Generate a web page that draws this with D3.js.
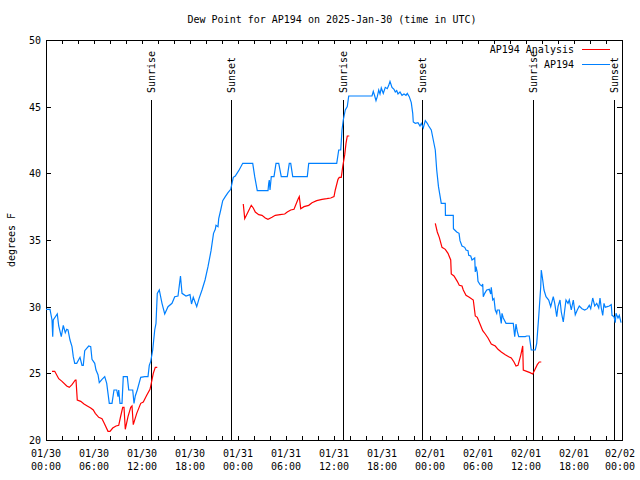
<!DOCTYPE html>
<html><head><meta charset="utf-8">
<script src="https://cdn.jsdelivr.net/npm/d3@7"></script>
<style>body{margin:0;background:#fff}svg{display:block}text{font-family:"DejaVu Sans Mono","Liberation Mono",monospace;font-size:10px;fill:#000}</style>
</head><body><svg id="c" width="640" height="480"></svg>
<script>
const title = "Dew Point for AP194 on 2025-Jan-30 (time in UTC)";
const yLabel = "degrees F";
const baseTime = Date.UTC(2025, 0, 30, 0, 0);
const yTicks = [20, 25, 30, 35, 40, 45, 50];
const seriesNames = ["AP194 Analysis", "AP194"];
// observed (hours after 01/30 00:00 UTC)
const obsHours = [0,0.5,0.75,0.84,0.91,1.41,1.59,1.91,2.16,2.41,2.59,2.75,3,3.25,3.41,3.59,3.84,4.25,4.5,4.66,4.84,5.34,5.59,5.75,6.09,6.25,6.5,6.66,7,7.34,7.59,7.91,8.25,8.5,8.84,9,9.09,9.25,9.5,9.66,10.16,10.34,10.84,11,11.16,11.41,11.84,12.34,12.75,12.91,13.09,13.34,13.59,13.75,13.91,14.16,14.5,14.84,15.25,15.75,16.09,16.5,16.81,17,17.5,18,18.19,18.41,18.84,19.13,19.5,19.88,20.25,20.63,20.94,21.16,21.25,21.5,21.59,21.84,22.09,22.41,22.75,23.09,23.25,23.41,23.66,24.09,24.59,25.84,26.09,26.41,27.75,27.84,27.91,28,28.16,28.5,28.75,29.09,29.41,30.16,30.41,30.59,30.84,32.66,32.84,36.34,36.59,36.84,37,37.16,37.41,37.66,37.84,40.75,40.91,41.09,41.25,41.41,41.59,41.75,41.91,42.16,42.41,42.66,42.84,43,43.25,43.5,43.66,43.84,44,44.25,44.5,44.75,45,45.16,45.41,45.66,45.84,45.91,46.16,46.5,46.75,46.91,47.16,47.41,47.66,47.84,48.16,48.41,48.66,48.84,49.06,49.41,49.91,49.93,50.91,50.93,51.34,51.63,51.75,52,52.34,52.5,52.75,52.84,53.09,53.25,53.59,53.66,53.75,53.91,54,54.25,54.5,54.59,54.66,54.84,55.09,55.41,55.59,55.66,55.84,56,56.16,56.34,56.41,56.66,56.91,57,57.16,57.5,58.41,58.59,58.75,58.91,59.09,59.91,60.09,60.41,60.66,61.16,61.34,61.59,61.84,61.91,62.09,62.25,62.5,62.84,63.09,63.41,63.59,63.84,64,64.25,64.41,64.66,64.84,65,65.25,65.41,65.66,65.91,66.16,66.41,66.66,67,67.34,67.66,67.91,68.09,68.34,68.59,68.84,69.09,69.25,69.41,69.59,69.75,69.91,70.16,70.41,70.66,70.75,71,71.16,71.25,71.5,71.66,71.88];
const obsDew = [29.8,29.8,29,27.75,29,29.45,28.55,27.75,28.6,28.05,28.3,28.25,27.5,27,26.25,25.75,25.75,26.2,25.6,25.6,26.7,27.05,27,26.05,25.75,25.25,24.9,24.3,24.55,24.75,24.25,22.75,22.75,23.75,23.75,23.25,23.75,22.75,22.75,24.75,24.75,23.75,23.75,22.75,23.3,23.75,24.7,24.75,24.75,25.6,25.9,26.75,28.25,28.75,31,31.25,30.25,29.45,30,30.25,30.75,30.8,32.3,31,30.8,30.9,30.2,30.7,30,30.6,31.25,32,33,34.2,35.5,35.8,36.1,36,36.6,37.25,37.95,38.25,38.55,38.8,39.25,39.7,39.8,40.2,40.75,40.75,39.75,38.7,38.7,39.25,39.5,38.75,39.75,39.75,40.75,40.75,39.75,39.75,40.75,40.75,39.75,39.75,40.75,40.75,41.75,41.75,43.25,44,44.75,45,45.8,45.8,46.15,45.8,45.45,45.75,46.25,45.95,46.4,46,46.45,46.35,46.6,46.9,46.45,46.3,46.1,46.2,45.95,46.1,45.85,45.95,45.85,46,45.75,45.3,44.5,43.85,43.75,43.8,43.55,43.75,43.4,43.95,43.75,43.55,43.25,42.5,41.75,40.25,39,37.75,37.75,36.85,36.85,35.85,35.6,35.5,34.95,34.55,34.45,34.25,34.2,33.85,33.8,33.5,33.65,32.6,33,32.55,31.9,31.65,31.55,31.7,30.75,31,31.25,31.3,30.95,31.45,30.5,30.6,29.75,29.5,29.75,29.75,28.75,29.5,29.15,28.75,28.75,27.75,28.7,28.15,27.75,27.75,27.8,27.8,26.75,26.75,27.25,29.25,31.5,32.75,32,31.25,30.75,30.5,30,30.75,30.25,29.25,30,30.5,29.6,28.85,29.75,30.5,30.25,30.5,29.75,30.5,29.4,29.75,30.05,29.85,29.75,29.85,30.1,29.85,30.65,30.05,30.25,29.9,30.65,29.9,29.35,30.25,29.95,30,30.05,30.15,29.35,29.25,28.8,29.5,29.15,29.35,28.8];
// analysis (null = gap)
const anaHours = [0.75,1.09,1.59,2,2.59,2.91,3.25,3.66,3.75,3.91,4.34,4.75,5.16,5.59,5.91,6.16,6.59,7,7.25,7.75,8,8.34,8.75,9.09,9.34,9.59,9.75,9.91,10.25,10.59,10.75,10.91,11.34,11.84,12.16,12.59,13,13.16,13.41,13.66,13.91,
 19,
 24.66,24.84,25.25,25.66,25.91,26.16,26.59,27,27.41,27.75,28.25,28.66,29.25,29.84,30.16,30.59,31,31.5,31.66,31.84,32.25,32.84,33.25,33.84,34.5,35.09,35.59,36,36.16,36.5,36.66,36.91,37.09,37.34,37.5,37.66,37.91,
 43,
 48.66,48.91,49.16,49.5,49.91,50.25,50.59,50.66,51,51.41,51.66,52,52.16,52.5,52.91,53.41,53.66,53.91,54.25,54.59,54.91,55.25,55.66,56.16,56.5,56.91,57.41,57.84,58.16,58.5,58.75,59,59.34,59.59,59.66,60.09,60.5,60.84,61.09,61.41,61.66,61.91];
const anaDew = [25.15,25.15,24.6,24.4,24.05,23.95,24.15,24.5,24.5,23,22.9,22.7,22.55,22.4,22.25,22,21.7,21.6,21.3,20.65,20.65,20.9,21.05,21.1,21.8,22.45,22.45,20.8,21.75,22.45,22.55,21.15,22,22.75,22.85,23.35,23.8,24.25,25,25.45,25.45,
 null,
 37.7,36.6,37.1,37.6,37.4,37.1,36.9,36.85,36.65,36.55,36.7,36.85,36.9,36.95,37.1,37.25,37.3,38.05,38.25,37.35,37.5,37.6,37.8,37.95,38.05,38.1,38.15,38.25,38.75,39.55,39.7,39.7,40.5,41.4,42.25,42.8,42.8,
 null,
 36.25,35.6,35.2,34.45,34.3,34,33.5,32.45,32.3,31.9,31.6,31.55,31.25,30.85,30.7,30.5,29.3,29.2,28.7,28.2,27.95,27.65,27.2,27.05,26.8,26.6,26.4,26.25,26.15,25.85,25.55,25.6,26.35,27.05,25.25,25.15,25.05,24.95,25.25,25.65,25.85,25.85];
const sunHours = [13.12, 23.12, 37.12, 47.0, 60.88, 71.0];
const sunLabels = ["Sunrise", "Sunset", "Sunrise", "Sunset", "Sunrise", "Sunset"];

const H = 3600000;
const svg = d3.select("#c");
svg.append("rect").attr("width",640).attr("height",480).attr("fill","#fff");
const L = 46, R = 622, T = 40, B = 440;
const x = d3.scaleUtc().domain([new Date(baseTime), new Date(baseTime + 72*H)]).range([L, R]);
const y = d3.scaleLinear().domain([20, 50]).range([B, T]);
const fmt1 = d3.utcFormat("%m/%d"), fmt2 = d3.utcFormat("%H:%M");
const tickTimes = d3.range(0, 73, 2).map(h => new Date(baseTime + h*H));
const labelTimes = d3.range(0, 73, 6).map(h => new Date(baseTime + h*H));

const g = svg.append("g").attr("shape-rendering","crispEdges");
// ticks x bottom & top
g.selectAll(".xtb").data(tickTimes).join("line")
  .attr("x1", d => Math.round(x(d))+0.5).attr("x2", d => Math.round(x(d))+0.5)
  .attr("y1", B).attr("y2", B-4).attr("stroke","#000");
g.selectAll(".xtt").data(tickTimes).join("line")
  .attr("x1", d => Math.round(x(d))+0.5).attr("x2", d => Math.round(x(d))+0.5)
  .attr("y1", T).attr("y2", T+4).attr("stroke","#000");
// ticks y left & right
g.selectAll(".ytl").data(yTicks).join("line")
  .attr("x1", L).attr("x2", L+5).attr("y1", d => Math.round(y(d))+0.5).attr("y2", d => Math.round(y(d))+0.5).attr("stroke","#000");
g.selectAll(".ytr").data(yTicks).join("line")
  .attr("x1", R-5).attr("x2", R).attr("y1", d => Math.round(y(d))+0.5).attr("y2", d => Math.round(y(d))+0.5).attr("stroke","#000");
// x labels
const xl = svg.selectAll(".xl").data(labelTimes).join("text")
  .attr("text-anchor","middle").attr("x", (d,i) => i === labelTimes.length-1 ? x(d)-2 : x(d));
xl.append("tspan").attr("y", 457).text(d => fmt1(d));
xl.append("tspan").attr("x", (d,i) => i === labelTimes.length-1 ? x(d)-2 : x(d)).attr("y", 470).text(d => fmt2(d));
// y labels
svg.selectAll(".yl").data(yTicks).join("text")
  .attr("text-anchor","end").attr("x", L-5).attr("y", d => y(d)+4).text(d => d);
// sunrise/sunset lines
g.selectAll(".sun").data(sunHours).join("line")
  .attr("x1", d => Math.round(x(new Date(baseTime + d*H)))+0.5)
  .attr("x2", d => Math.round(x(new Date(baseTime + d*H)))+0.5)
  .attr("y1", 100).attr("y2", B).attr("stroke","#000");
svg.selectAll(".sunl").data(sunHours).join("text")
  .attr("transform", d => `translate(${Math.round(x(new Date(baseTime + d*H)))+4},93) rotate(-90)`)
  .attr("text-anchor","start").text((d,i) => sunLabels[i]);
// lines
const lineGen = d3.line().defined(d => d[1] !== null)
  .x(d => x(new Date(baseTime + d[0]*H))).y(d => y(d[1]));
svg.append("path").datum(anaHours.map((h,i) => [h, anaDew[i]]))
  .attr("d", lineGen).attr("fill","none").attr("stroke","#ff0000").attr("stroke-width",1.2);
svg.append("path").datum(obsHours.map((h,i) => [h, obsDew[i]]))
  .attr("d", lineGen).attr("fill","none").attr("stroke","#0080ff").attr("stroke-width",1.2);
// frame
g.append("rect").attr("x", L+0.5).attr("y", T+0.5).attr("width", R-L).attr("height", B-T)
  .attr("fill","none").attr("stroke","#000");
// legend
const legColors = ["#ff0000", "#0080ff"];
seriesNames.forEach((n, i) => {
  svg.append("text").attr("x", 574).attr("y", 53 + i*15).attr("text-anchor","end").text(n);
  svg.append("line").attr("x1", 582).attr("x2", 610).attr("y1", 49.5 + i*15).attr("y2", 49.5 + i*15)
    .attr("stroke", legColors[i]).attr("stroke-width",1.2).attr("shape-rendering","crispEdges");
});
// title
svg.append("text").attr("x", 332).attr("y", 23).attr("text-anchor","middle").text(title);
// y label
svg.append("text").attr("transform","translate(15,240) rotate(-90)").attr("text-anchor","middle").text(yLabel);
</script></body></html>
